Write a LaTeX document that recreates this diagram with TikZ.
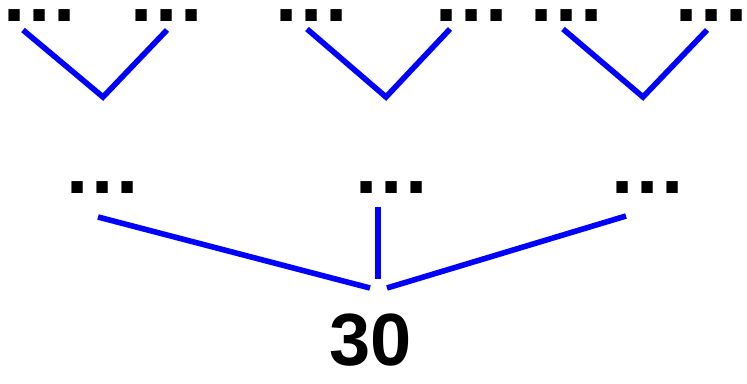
\documentclass[tikz,border=0pt]{standalone}
\usepackage{fontspec}
\setmainfont{Liberation Sans}
\definecolor{edgeblue}{RGB}{0,0,255}
\begin{document}
\begin{tikzpicture}[x=1pt,y=-1pt,
  dots/.style={inner sep=0pt,anchor=base,font=\fontsize{80}{80}\selectfont\bfseries},
  num/.style={inner sep=0pt,anchor=base,font=\fontsize{74}{74}\selectfont\bfseries},
  edge/.style={draw=edgeblue,line width=5.6pt}]
\useasboundingbox (0,0) rectangle (747,383);
\newcommand{\mydots}{.\kern2.8pt.\kern2.8pt.}
% top row
\node[dots] (t1) at (40,21) {\mydots};
\node[dots] (t2) at (167,21) {\mydots};
\node[dots] (t3) at (311.5,21) {\mydots};
\node[dots] (t4) at (472,21) {\mydots};
\node[dots] (t5) at (567,21) {\mydots};
\node[dots] (t6) at (712,21) {\mydots};
% middle row
\node[dots] (m1) at (103,193) {\mydots};
\node[dots] (m2) at (392,193) {\mydots};
\node[dots] (m3) at (648,193) {\mydots};
% root
\node[num] (r) at (371,365) {30};
% edge end points
\coordinate (a1) at (23,30);
\coordinate (v1) at (103,97);
\coordinate (b1) at (167,30);
\coordinate (a2) at (307,29);
\coordinate (v2) at (386,97);
\coordinate (b2) at (450,29);
\coordinate (a3) at (563,29);
\coordinate (v3) at (643,97);
\coordinate (b3) at (707,30);
\coordinate (c1) at (98,217);
\coordinate (d1) at (370,288);
\coordinate (c2) at (378,207);
\coordinate (d2) at (378,279);
\coordinate (c3) at (626,216);
\coordinate (d3) at (387,288);
\draw[edge] (a1) -- (v1) -- (b1);
\draw[edge] (a2) -- (v2) -- (b2);
\draw[edge] (a3) -- (v3) -- (b3);
\draw[edge] (c1) -- (d1);
\draw[edge] (c2) -- (d2);
\draw[edge] (c3) -- (d3);
\end{tikzpicture}
\end{document}
